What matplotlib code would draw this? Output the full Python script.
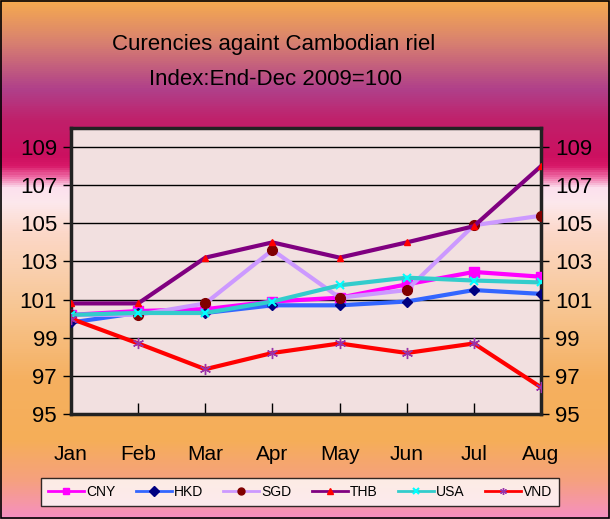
import numpy as np
import matplotlib
matplotlib.use('Agg')
import matplotlib.pyplot as plt
from matplotlib.colors import LinearSegmentedColormap

plt.rcParams['font.family'] = ['Liberation Sans', 'DejaVu Sans']

# ---------------------------------------------------------------------------
# data (index, end-Dec 2009 = 100)
# ---------------------------------------------------------------------------
months = ["Jan", "Feb", "Mar", "Apr", "May", "Jun", "Jul", "Aug"]
cny = [100.2, 100.4, 100.5, 100.9, 101.1, 101.8, 102.45, 102.2]
hkd = [99.8, 100.3, 100.3, 100.7, 100.7, 100.9, 101.5, 101.3]
sgd = [100.2, 100.2, 100.8, 103.6, 101.1, 101.5, 104.9, 105.4]
thb = [100.8, 100.8, 103.2, 104.0, 103.2, 104.0, 104.85, 108.0]
usa = [100.2, 100.3, 100.3, 100.9, 101.75, 102.15, 102.0, 101.9]
vnd = [100.0, 98.7, 97.35, 98.2, 98.7, 98.2, 98.7, 96.4]
yticks = [95, 97, 99, 101, 103, 105, 107, 109]

fig = plt.figure(figsize=(6.10, 5.19), dpi=100)

# background gradient (top -> bottom)
bg = fig.add_axes([0, 0, 1, 1], zorder=-10)
stops = [(0.00, '#F5AA50'), (0.08, '#D88070'), (0.17, '#B0408A'),
         (0.23, '#C0206A'), (0.30, '#CC1060'), (0.32, '#D81868'),
         (0.34, '#F070A8'), (0.36, '#FCE0EE'), (0.39, '#FCE8EC'),
         (0.45, '#FCD8C8'), (0.58, '#F8C898'), (0.73, '#F5B060'),
         (0.85, '#F5AE58'), (0.93, '#F5A080'), (1.00, '#F590C0')]
cmap = LinearSegmentedColormap.from_list('bg', stops)
bg.imshow(np.linspace(0, 1, 519).reshape(-1, 1), aspect='auto', cmap=cmap,
          extent=[0, 1, 0, 1])
bg.set_xlim(0, 1)
bg.set_ylim(0, 1)
bg.axis('off')
bg.add_patch(plt.Rectangle((0.001, 0.001), 0.997, 0.997, fill=False,
                           edgecolor='black', linewidth=1.2,
                           transform=bg.transAxes))

ax = fig.add_axes([0.1164, 0.2023, 0.7705, 0.5511])
ax.set_facecolor('#F2E0E0')
x = np.arange(len(months))

ax.plot(x, cny, color='#FF00FF', lw=3, marker='s', ms=7,
        mfc='#FF00FF', mec='#FF00FF', label='CNY', zorder=3)
ax.plot(x, hkd, color='#3366FF', lw=3, marker='D', ms=5,
        mfc='#000080', mec='#000080', label='HKD', zorder=3)
ax.plot(x, sgd, color='#CC99FF', lw=3, marker='o', ms=7,
        mfc='#800000', mec='#800000', label='SGD', zorder=3)
ax.plot(x, thb, color='#800080', lw=3, marker='^', ms=4,
        mfc='#FF0000', mec='#FF0000', label='THB', zorder=3)
ax.plot(x, usa, color='#33CCCC', lw=3, marker='x', ms=6, mew=1.5,
        mec='#00FFFF', label='USA', zorder=3)
ax.plot(x, vnd, color='#FF0000', lw=3, marker=(6, 2, 0), ms=8, mew=1,
        mec='#9933AA', label='VND', zorder=3)

ax.set_xlim(0, 7)
ax.set_ylim(95, 110)
ax.set_yticks(yticks)
ax.set_xticks(x)
ax.set_xticklabels(months)
ax.grid(axis='y', color='black', lw=1)
ax.set_axisbelow(True)
for s in ax.spines.values():
    s.set_color('#222222')
    s.set_linewidth(2.5)
ax.tick_params(axis='y', direction='out', length=6, width=1, labelsize=16,
               right=True, labelright=True, pad=4)
ax.tick_params(axis='x', direction='in', length=8, width=1, labelsize=15,
               pad=22)

fig.text(0.448, 0.914, "Curencies againt Cambodian riel", ha='center',
         va='center', fontsize=16)
fig.text(0.452, 0.846, "Index:End-Dec 2009=100", ha='center',
         va='center', fontsize=16)

leg = fig.legend(loc='center', bbox_to_anchor=(0.492, 0.052), ncol=6,
                 fontsize=10, frameon=True, fancybox=False, handlelength=2.6,
                 handletextpad=0.15, columnspacing=1.45, borderpad=0.5,
                 numpoints=1)
leg.get_frame().set_edgecolor('black')
leg.get_frame().set_linewidth(1)
for h in leg.get_lines():
    h.set_linewidth(2)
    h.set_markersize(5)

fig.savefig('out.png', dpi=100)
